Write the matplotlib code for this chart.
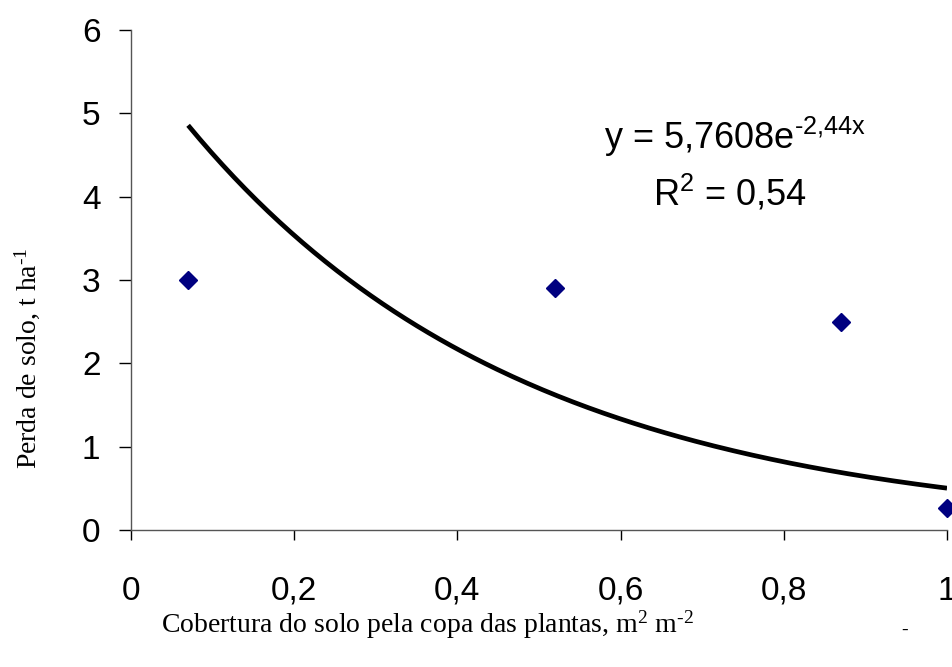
import numpy as np
import matplotlib
matplotlib.use("Agg")
import matplotlib.pyplot as plt

# Observed data
cobertura = [0.07, 0.52, 0.87, 1.0]
perda = [3.0, 2.90, 2.50, 0.26]

# Trendline coefficients shown on the chart (y = a * exp(b x))
coef_a = 5.7608
coef_b = -2.44
trend_x_range = [0.07, 1.0]

x_ticks = [0, 0.2, 0.4, 0.6, 0.8, 1.0]
x_tick_labels = ["0", "0,2", "0,4", "0,6", "0,8", "1"]
y_ticks = [0, 1, 2, 3, 4, 5, 6]
y_tick_labels = ["0", "1", "2", "3", "4", "5", "6"]

fig = plt.figure(figsize=(9.53, 6.67), dpi=100)
ax = fig.add_axes([131/953, 1 - 530/667, (947-131)/953, (530-30)/667])

tx = np.linspace(trend_x_range[0], trend_x_range[1], 200)
ty = coef_a * np.exp(coef_b * tx)
ax.plot(tx, ty, color="black", lw=3.4, solid_capstyle="butt", zorder=2)
ax.plot(cobertura, perda, linestyle="none", marker="D", ms=9.5,
        color="#000080", zorder=3, clip_on=False)

ax.set_xlim(0, 1)
ax.set_ylim(0, 6)
ax.set_xticks(x_ticks)
ax.set_xticklabels(x_tick_labels, fontsize=24, family="Liberation Sans")
ax.set_yticks(y_ticks)
ax.set_yticklabels(y_tick_labels, fontsize=24, family="Liberation Sans")
ax.tick_params(axis="x", direction="out", length=7, width=1, pad=26, colors="black")
ax.tick_params(axis="y", direction="out", length=9, width=1, pad=13, colors="black")
for s in ["top", "right"]:
    ax.spines[s].set_visible(False)
for s in ["left", "bottom"]:
    ax.spines[s].set_color("#555555")
    ax.spines[s].set_linewidth(1)

fig.text(427/953, 1 - 625/667, "Cobertura do solo pela copa das plantas, m$\\mathregular{^{2}}$ m$\\mathregular{^{\u20102}}$",
         ha="center", va="center", fontsize=20, family="Liberation Serif")
fig.text(27/953, 1 - 358/667, "Perda de solo, t ha$\\mathregular{^{\u20101}}$",
         ha="center", va="center", rotation=90, fontsize=20, family="Liberation Serif")
fig.text(905/953, 1 - 630/667, "-", ha="center", va="center", fontsize=14, family="Liberation Serif")

fig.text(735/953, 1 - 137/667, "y = 5,7608e$\\mathregular{^{\u20102{,}44x}}$",
         ha="center", va="center", fontsize=26, family="Liberation Sans")
fig.text(730/953, 1 - 193/667, r"R$\mathregular{^{2}}$ = 0,54",
         ha="center", va="center", fontsize=26, family="Liberation Sans")

fig.savefig("out.png", dpi=100)
